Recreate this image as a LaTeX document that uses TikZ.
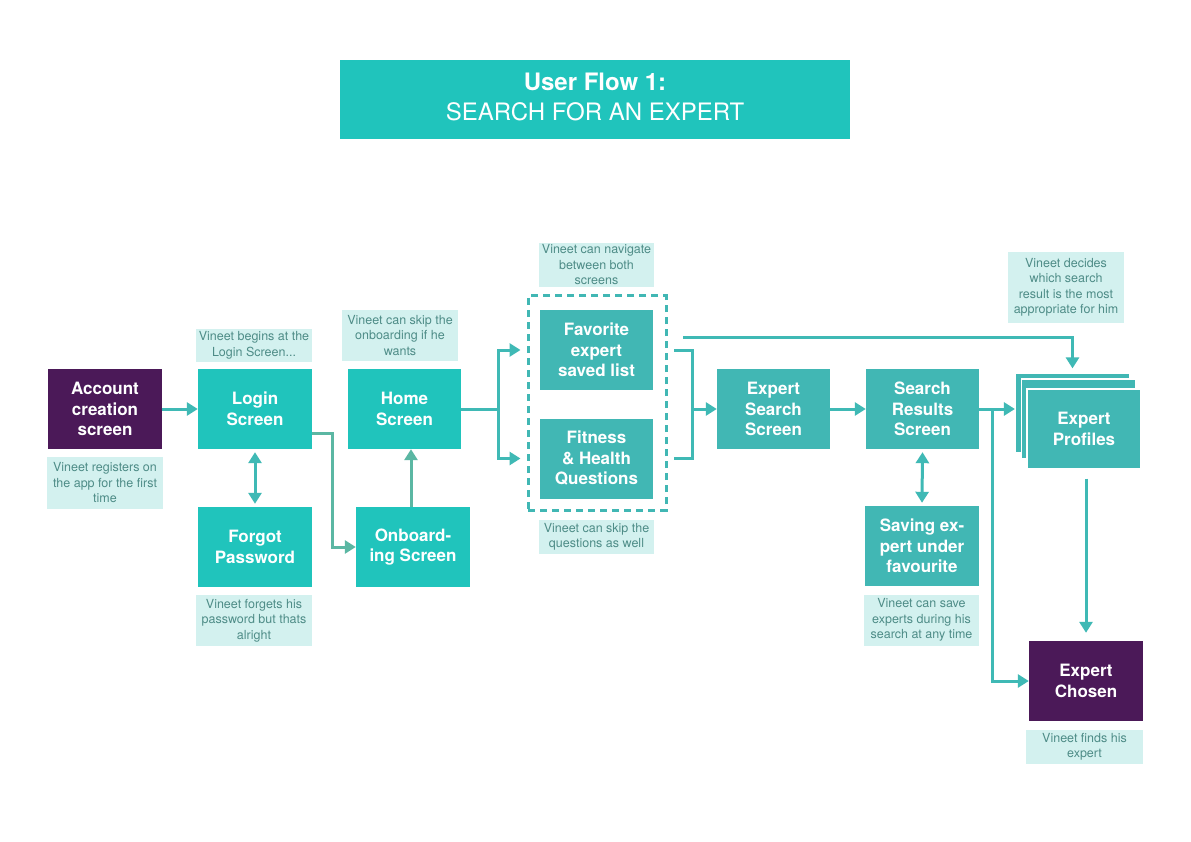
\documentclass[tikz,border=0pt]{standalone}
\usepackage{fontspec}
\setmainfont{TeX Gyre Heros}
\usetikzlibrary{arrows.meta}
\definecolor{tealA}{HTML}{20C4BC}
\definecolor{tealB}{HTML}{41B7B4}
\definecolor{plum}{HTML}{4B1958}
\definecolor{notebg}{HTML}{D3F1EF}
\definecolor{notetx}{HTML}{4E8C87}
\definecolor{wire}{HTML}{3FB9B5}
\definecolor{wireg}{HTML}{5BB7A3}
\begin{document}
\begin{tikzpicture}[x=1pt, y=-1pt, every node/.style={font=\fontsize{17}{20.5}\selectfont\bfseries, text=white, align=center, inner sep=0pt}, screen/.style={fill=tealA, minimum width=114pt, minimum height=80pt}, altscreen/.style={screen, fill=tealB}, final/.style={screen, fill=plum}, card/.style={altscreen, draw=white, line width=1.2pt}, note/.style={fill=notebg, text=notetx, minimum width=116pt, font=\fontsize{12.5}{15.5}\selectfont}, group/.style={draw=tealB, line width=3pt, dash pattern=on 7pt off 5pt, minimum width=138pt, minimum height=214pt}, plain/.style={draw=wire, line width=3pt}, flow/.style={plain, -{Triangle[length=11pt,width=13pt]}}, flowg/.style={flow, draw=wireg}, twoway/.style={plain, {Triangle[length=11pt,width=13pt]}-{Triangle[length=11pt,width=13pt]}}]
\fill[white] (0,0) rectangle (1191,842);
\node[fill=tealA, minimum width=510pt, minimum height=79pt, font=\fontsize{24}{30}\selectfont] (title) at (595,99.5) {{\bfseries User Flow 1:}\\SEARCH FOR AN EXPERT\vphantom{p}};
\node[final] (account) at (105,409) {Account\\creation\\screen};
\node[note, minimum height=52pt] (n-account) at (105,483) {Vineet registers on\\the app for the first\\time};
\node[screen] (login) at (255,409) {Login\\Screen};
\node[note, minimum height=33pt] (n-login) at (254,345.5) {Vineet begins at the\\Login Screen...};
\node[screen] (forgot) at (255,547) {Forgot\\Password};
\node[note, minimum height=51pt] (n-forgot) at (254,620.5) {Vineet forgets his\\password but thats\\alright};
\node[screen, minimum width=113pt] (home) at (404.5,409) {Home\\Screen};
\node[note, minimum height=51pt] (n-home) at (400,335.5) {Vineet can skip the\\onboarding if he\\wants};
\node[screen] (onboard) at (413,547) {Onboard-\\ing Screen};
\node[group] (qgroup) at (597,403) {};
\node[altscreen, minimum width=113pt] (favlist) at (596.5,350) {Favorite\\expert\\saved list};
\node[altscreen, minimum width=113pt] (fitq) at (596.5,458.5) {Fitness\\\& Health\\Questions};
\node[note, minimum width=115pt, minimum height=44pt] (n-nav) at (596.5,265) {Vineet can navigate\\between both\\screens};
\node[note, minimum width=115pt, minimum height=34pt] (n-skip) at (596.5,537) {Vineet can skip the\\questions as well};
\node[altscreen, minimum width=113pt] (search) at (773.5,409) {Expert\\Search\\Screen};
\node[altscreen, minimum width=113pt] (results) at (922.5,409) {Search\\Results\\Screen};
\node[altscreen] (saving) at (922,546) {Saving ex-\\pert under\\favourite};
\node[note, minimum width=115pt, minimum height=51pt] (n-saving) at (921.5,620) {Vineet can save\\experts during his\\search at any time};
\node[card] (profback) at (1072.5,413) {};
\node[card] (profmid) at (1078.5,419) {};
\node[card] (profiles) at (1084,429) {Expert\\Profiles};
\node[note, minimum height=71pt] (n-profiles) at (1066,287.5) {Vineet decides\\which search\\result is the most\\appropriate for him};
\node[final] (chosen) at (1086,681) {Expert\\Chosen};
\node[note, minimum width=117pt, minimum height=34pt] (n-chosen) at (1084.5,747) {Vineet finds his\\expert};
\coordinate (hsplit) at (498,409);
\coordinate (qjoin) at (692,409);
\coordinate (topstart) at (683,337);
\coordinate (rsplit) at (992,409);
\draw[flow] (account) -- (login);
\draw[twoway] ([yshift=-3pt]login.south) -- ([yshift=3pt]forgot.north);
\draw[flowg] ([yshift=-24pt]login.east) -- ++(20,0) |- (onboard.west);
\draw[flowg] ([xshift=-2pt]onboard.north) -- ([xshift=-2pt]onboard.north |- home.south);
\draw[plain] (home.east) -- (hsplit);
\draw[flow] (hsplit) |- ([xshift=-6pt]qgroup.west |- favlist);
\draw[flow] (hsplit) |- ([xshift=-6pt]qgroup.west |- fitq);
\draw[plain] ([xshift=21pt]favlist.east) -| (qjoin) |- ([xshift=21pt]fitq.east);
\draw[flow] (qjoin) -- (search.west);
\draw[flow] (search) -- (results);
\draw[flow] (topstart) -| ([yshift=4pt]profback.north);
\draw[flow] (results.east) -- (results.east -| profback.west);
\draw[flow] (rsplit) |- (chosen.west);
\draw[twoway] ([yshift=-3pt]results.south) -- ([yshift=3pt]saving.north);
\draw[flow] ([yshift=-9pt]chosen.north |- profiles.south) -- ([yshift=8pt]chosen.north);
\end{tikzpicture}
\end{document}
